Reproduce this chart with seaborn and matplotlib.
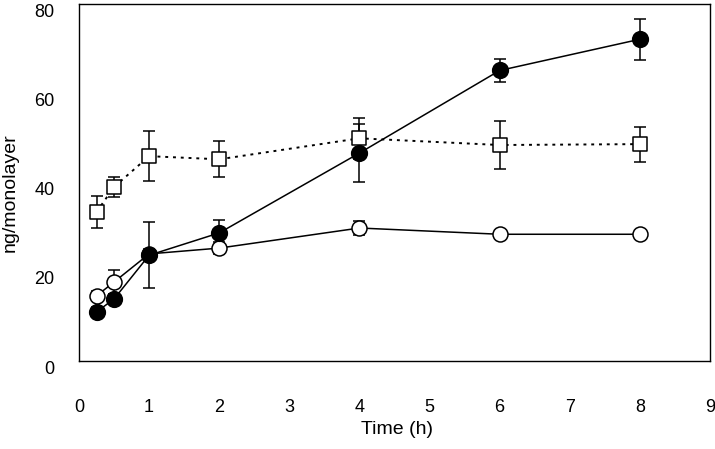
import numpy as np
import pandas as pd
import matplotlib
matplotlib.use("Agg")
import matplotlib.pyplot as plt
import matplotlib.transforms as mtransforms
import seaborn as sns

# ---- data ----
time_h = [0.25, 0.5, 1, 2, 4, 6, 8]
filled_mean = [11.0, 13.9, 23.7, 28.7, 46.6, 65.1, 72.1]
filled_err = [1.2, 1.2, 7.4, 2.9, 6.5, 2.5, 4.6]
open_mean = [14.6, 17.7, 24.0, 25.3, 29.8, 28.4, 28.4]
open_err = [1.0, 2.7, 1.0, 1.3, 1.5, 0.5, 0.5]
square_mean = [33.4, 39.0, 45.9, 45.2, 49.9, 48.4, 48.6]
square_err = [3.5, 2.3, 5.6, 4.0, 4.6, 5.4, 3.9]

x_ticks = [0, 1, 2, 3, 4, 5, 6, 7, 8, 9]
y_ticks = [0, 20, 40, 60, 80]

sns.set_theme(style="white")
plt.rcParams['font.family'] = ['Liberation Sans', 'DejaVu Sans']

df = pd.DataFrame({
    "time": time_h * 3,
    "value": filled_mean + open_mean + square_mean,
    "series": ["filled"] * 7 + ["open"] * 7 + ["square"] * 7,
})

fig = plt.figure(figsize=(7.15, 4.49), dpi=100)
ax = fig.add_axes([79 / 715, 1 - 361 / 449, 631 / 715, 357 / 449])

lw = 1.1
# error bars
for m, e in [(filled_mean, filled_err), (open_mean, open_err), (square_mean, square_err)]:
    ax.errorbar(time_h, m, yerr=e, fmt="none", ecolor="black", elinewidth=lw,
                capsize=4.3, capthick=lw, zorder=2)

# lines
sub = df[df.series == "square"]
sns.lineplot(data=sub, x="time", y="value", ax=ax, color="black", lw=1.4,
             linestyle=(0, (1.5, 2.5)), zorder=3, legend=False)
for s in ["open", "filled"]:
    sub = df[df.series == s]
    sns.lineplot(data=sub, x="time", y="value", ax=ax, color="black", lw=lw,
                 zorder=3, legend=False)

# markers
sns.scatterplot(data=df[df.series == "square"], x="time", y="value", ax=ax,
                marker="s", s=10.6 ** 2, facecolor="white", edgecolor="black",
                linewidth=lw, zorder=4, legend=False)
sns.scatterplot(data=df[df.series == "open"], x="time", y="value", ax=ax,
                marker="o", s=10.8 ** 2, facecolor="white", edgecolor="black",
                linewidth=lw, zorder=4, legend=False)
sns.scatterplot(data=df[df.series == "filled"], x="time", y="value", ax=ax,
                marker="o", s=11.3 ** 2, facecolor="black", edgecolor="black",
                linewidth=lw, zorder=5, legend=False)

ax.set_xlim(0, 9)
ax.set_ylim(0, 80)
ax.set_xticks(x_ticks)
ax.set_yticks(y_ticks)
ax.set_xticklabels([str(t) for t in x_ticks])
ax.set_yticklabels([str(t) for t in y_ticks])

ax.tick_params(axis="x", direction="in", length=5, width=0.8, pad=27,
               labelsize=13, colors="black")
ax.tick_params(axis="y", direction="in", length=5.8, width=0.8, pad=17.5,
               labelsize=13, colors="black")
offset = mtransforms.ScaledTranslation(0, -6 / 100, fig.dpi_scale_trans)
for lab in ax.get_yticklabels():
    lab.set_transform(lab.get_transform() + offset)

for sp in ax.spines.values():
    sp.set_visible(True)
    sp.set_color("black")
    sp.set_linewidth(1.0)

ax.set_xlabel("Time (h)", fontsize=14, color="black")
ax.set_ylabel("ng/monolayer", fontsize=14, color="black")
ax.xaxis.set_label_coords(0.504, -0.168)
ax.yaxis.set_label_coords(-0.095, 0.473)
ax.grid(False)

fig.savefig("out.png", dpi=100, facecolor="white")
